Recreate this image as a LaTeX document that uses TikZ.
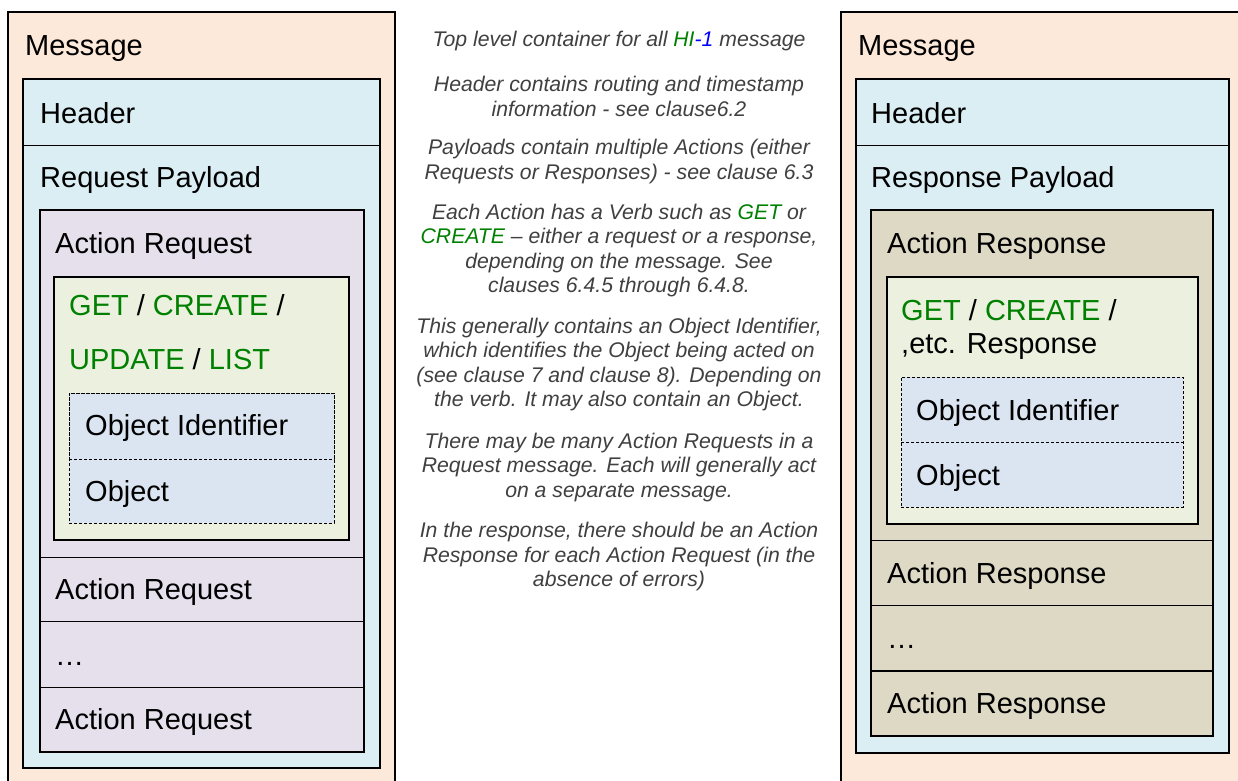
\documentclass[tikz,border=0pt]{standalone}
\usepackage{fontspec}
\setmainfont{Liberation Sans}
\definecolor{peach}{HTML}{FDE9D9}
\definecolor{lblue}{HTML}{DAEEF3}
\definecolor{lpurple}{HTML}{E5E0EC}
\definecolor{lgreen}{HTML}{EBF1DE}
\definecolor{dblue}{HTML}{DBE5F1}
\definecolor{tan}{HTML}{DDD9C4}
\definecolor{vgreen}{HTML}{008000}
\definecolor{vblue}{HTML}{0000FF}
\definecolor{notegray}{HTML}{404040}
\begin{document}
\begin{tikzpicture}[x=1pt,y=-1pt,
  cont/.style={draw=black,line width=1.8pt,anchor=north west,inner sep=0pt,outer sep=0pt},
  rowbox/.style={draw=black,line width=0.9pt,anchor=north west,inner sep=0pt,outer sep=0pt},
  dbox/.style={draw=black,line width=1pt,dash pattern=on 3pt off 2pt,anchor=north west,inner sep=0pt,outer sep=0pt},
  lbl/.style={anchor=base west,inner sep=0pt,font=\fontsize{29}{34}\selectfont},
  note/.style={align=center,inner sep=0pt,text=notegray,font=\fontsize{21.2}{24.5}\selectfont\itshape}]
\useasboundingbox (0,0) rectangle (1238,780);
\fill[white] (0,0) rectangle (1238,780);

% ---------- left panel ----------
\node[cont,fill=peach,minimum width=387pt,minimum height=800pt] (lmsg) at (8,12) {};
\node[cont,fill=lblue,minimum width=357pt,minimum height=689pt] (lblue) at (23,79) {};
\node[rowbox,minimum width=357pt,minimum height=66pt] (lhdr) at (23,79) {};
\node[cont,fill=lpurple,minimum width=324pt,minimum height=542pt] (lact) at (40,210) {};
\node[rowbox,minimum width=324pt,minimum height=347pt] (lact1) at (40,210) {};
\node[rowbox,minimum width=324pt,minimum height=64pt] (lact2) at (40,557) {};
\node[rowbox,minimum width=324pt,minimum height=66pt] (ldots) at (40,621) {};
\node[rowbox,minimum width=324pt,minimum height=65pt] (lact3) at (40,687) {};
\node[cont,fill=lgreen,minimum width=295pt,minimum height=263pt] (lverb) at (54,277) {};
\node[dbox,fill=dblue,minimum width=265pt,minimum height=130pt] (lobj) at (69,393) {};
\node[dbox,minimum width=265pt,minimum height=66pt] (loid) at (69,393) {};

\node[lbl] (tlmsg) at (25,55) {Message};
\node[lbl] (tlhdr) at (40,123) {Header};
\node[lbl] (tlpay) at (40,187) {Request Payload};
\node[lbl] (tlact1) at (55,253) {Action Request};
\node[lbl] (tlverb1) at (69,315) {\textcolor{vgreen}{GET} / \textcolor{vgreen}{CREATE} /};
\node[lbl] (tlverb2) at (69,369) {\textcolor{vgreen}{UPDATE} / \textcolor{vgreen}{LIST}};
\node[lbl] (tloid) at (85,435) {Object Identifier};
\node[lbl] (tlobj) at (85,501) {Object};
\node[lbl] (tlact2) at (55,599) {Action Request};
\node[lbl] (tldots) at (55,665) {…};
\node[lbl] (tlact3) at (55,729) {Action Request};

% ---------- right panel ----------
\node[cont,fill=peach,minimum width=420pt,minimum height=800pt] (rmsg) at (841,12) {};
\node[cont,fill=lblue,minimum width=373pt,minimum height=674pt] (rblue) at (856,79) {};
\node[rowbox,minimum width=373pt,minimum height=66pt] (rhdr) at (856,79) {};
\node[cont,fill=tan,minimum width=342pt,minimum height=526pt] (ract) at (871,210) {};
\node[rowbox,minimum width=342pt,minimum height=330pt] (ract1) at (871,210) {};
\node[rowbox,minimum width=342pt,minimum height=65pt] (ract2) at (871,540) {};
\node[rowbox,minimum width=342pt,minimum height=66pt] (rdots) at (871,605) {};
\node[rowbox,line width=1.6pt,minimum width=342pt,minimum height=65pt] (ract3) at (871,671) {};
\node[cont,fill=lgreen,minimum width=311pt,minimum height=247pt] (rverb) at (887,277) {};
\node[dbox,fill=dblue,minimum width=282pt,minimum height=130pt] (robj) at (901,377) {};
\node[dbox,minimum width=282pt,minimum height=65pt] (roid) at (901,377) {};

\node[lbl] (trmsg) at (858,55) {Message};
\node[lbl] (trhdr) at (871,123) {Header};
\node[lbl] (trpay) at (871,187) {Response Payload};
\node[lbl] (tract1) at (887,253) {Action Response};
\node[lbl] (trverb1) at (901,320) {\textcolor{vgreen}{GET} / \textcolor{vgreen}{CREATE} /};
\node[lbl] (trverb2) at (901,353) {,etc. Response};
\node[lbl] (troid) at (916,420) {Object Identifier};
\node[lbl] (trobj) at (916,485) {Object};
\node[lbl] (tract2) at (887,583) {Action Response};
\node[lbl] (trdots) at (887,648) {…};
\node[lbl] (tract3) at (887,713) {Action Response};

% ---------- notes ----------
\node[note] (n1) at (619,41.5) {Top level container for all \textcolor{vgreen}{HI}\textcolor{vblue}{-1} message};
\node[note] (n2) at (619,96.5) {Header contains routing and timestamp\\information - see clause6.2};
\node[note] (n3) at (619,161.5) {Payloads contain multiple Actions (either\\Requests or Responses) - see clause 6.3};
\node[note] (n4) at (619,250.5) {Each Action has a Verb such as \textcolor{vgreen}{GET} or\\\textcolor{vgreen}{CREATE} – either a request or a response,\\depending on the message. See\\clauses 6.4.5 through 6.4.8.};
\node[note] (n5) at (619,364.5) {This generally contains an Object Identifier,\\which identifies the Object being acted on\\(see clause 7 and clause 8). Depending on\\the verb. It may also contain an Object.};
\node[note] (n6) at (619,467.5) {There may be many Action Requests in a\\Request message. Each will generally act\\on a separate message.};
\node[note] (n7) at (619,556.5) {In the response, there should be an Action\\Response for each Action Request (in the\\absence of errors)};
\end{tikzpicture}
\end{document}
